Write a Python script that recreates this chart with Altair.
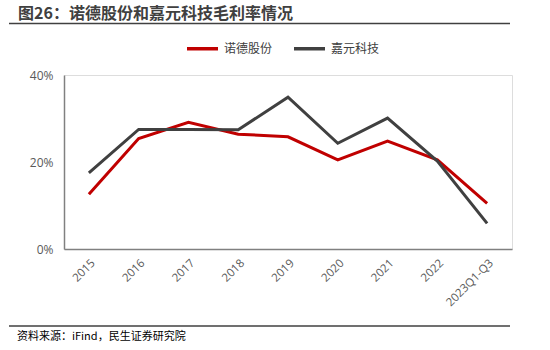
import altair as alt
import pandas as pd

categories = ["2015", "2016", "2017", "2018", "2019", "2020", "2021", "2022", "2023Q1-Q3"]
nuode = [12.6, 25.4, 29.1, 26.4, 25.8, 20.5, 24.8, 20.5, 10.5]
jiayuan = [17.5, 27.5, 27.5, 27.4, 34.9, 24.3, 30.1, 20.2, 5.9]
series_names = ["诺德股份", "嘉元科技"]
colors = ["#C00000", "#404040"]
y_ticks = [0, 0.2, 0.4]

rows = []
for c, a, b in zip(categories, nuode, jiayuan):
    rows.append({"year": c, "series": series_names[0], "value": a / 100})
    rows.append({"year": c, "series": series_names[1], "value": b / 100})
df = pd.DataFrame(rows)

FONT = "Noto Sans CJK SC"
NUMFONT = "Open Sans"

lines = alt.Chart(df).mark_line(strokeWidth=3).encode(
    x=alt.X("year:N", sort=categories, scale=alt.Scale(type="point", padding=0.5),
            axis=alt.Axis(title=None, labelAngle=-45, ticks=False, domainColor="#808080",
                          domainWidth=1.5, labelColor="#595959", labelFont=NUMFONT,
                          labelFontSize=11.5, labelPadding=8)),
    y=alt.Y("value:Q", scale=alt.Scale(domain=[0, 0.4]),
            axis=alt.Axis(title=None, values=y_ticks, format=".0%", ticks=False, grid=False,
                          domainColor="#808080", domainWidth=1.5, labelColor="#595959",
                          labelFont=NUMFONT, labelFontSize=12, labelPadding=11)),
    color=alt.Color("series:N", sort=series_names,
                    scale=alt.Scale(domain=series_names, range=colors),
                    legend=alt.Legend(title=None, orient="none", direction="horizontal",
                                      legendX=121, legendY=-44, symbolType="stroke",
                                      symbolSize=961, symbolStrokeWidth=3.5,
                                      labelFont=FONT, labelFontSize=12, labelColor="#404040",
                                      labelOffset=4, columnPadding=14)),
)

title_text = alt.Chart(pd.DataFrame({"t": ["图26：诺德股份和嘉元科技毛利率情况"]})).mark_text(
    align="left", baseline="middle", font=FONT, fontSize=16, fontWeight="bold", color="#404040"
).encode(x=alt.value(18 - 64), y=alt.value(14 - 75), text="t:N")

source_text = alt.Chart(pd.DataFrame({"t": ["资料来源：iFind，民生证券研究院"]})).mark_text(
    align="left", baseline="middle", font=FONT, fontSize=11, color="#000000"
).encode(x=alt.value(17 - 64), y=alt.value(337 - 75), text="t:N")

top_rule = alt.Chart(pd.DataFrame({"a": [0]})).mark_rule(color="#404040", strokeWidth=1.5).encode(
    x=alt.value(9 - 64), x2=alt.value(510 - 64), y=alt.value(23.5 - 75))
bottom_rule = alt.Chart(pd.DataFrame({"a": [0]})).mark_rule(color="#404040", strokeWidth=1.5).encode(
    x=alt.value(9 - 64), x2=alt.value(510 - 64), y=alt.value(326 - 75))

chart = alt.layer(lines, title_text, source_text, top_rule, bottom_rule).properties(
    width=448, height=174,
    autosize=alt.AutoSizeParams(type="none"),
    padding={"left": 64, "top": 75, "right": 38, "bottom": 101},
).configure_view(stroke=None).configure(background="white")

chart.save("out.html", embed_options={"renderer": "svg", "actions": False})
